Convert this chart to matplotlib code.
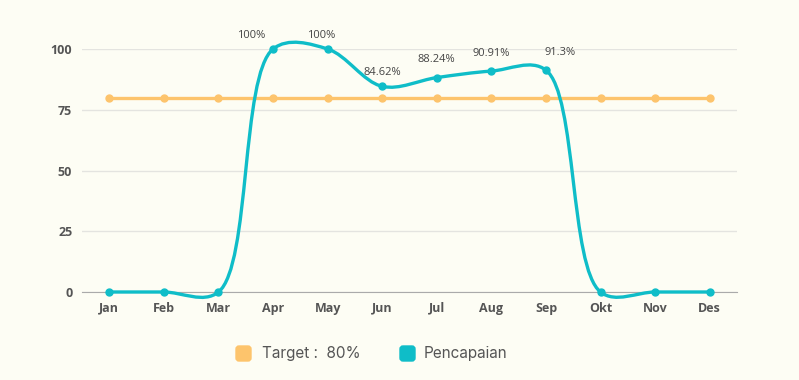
import numpy as np
import matplotlib
matplotlib.use('Agg')
import matplotlib.pyplot as plt
from matplotlib.path import Path
from matplotlib.patches import PathPatch, FancyBboxPatch

months = ['Jan', 'Feb', 'Mar', 'Apr', 'May', 'Jun', 'Jul', 'Aug', 'Sep', 'Okt', 'Nov', 'Des']
target = [80] * 12
pencapaian = [0, 0, 0, 100, 100, 84.62, 88.24, 90.91, 91.3, 0, 0, 0]
labels = ['', '', '', '100%', '100%', '84.62%', '88.24%', '90.91%', '91.3%', '', '', '']
# label shifts in pixels (dx, dy) so they clear the line
label_shift = [(0, 0), (0, 0), (0, 0), (-22, 14), (-6, 14), (0, 14),
               (0, 18), (0, 18), (14, 18), (0, 0), (0, 0), (0, 0)]

bg = '#FDFDF4'
orange = '#FDC46C'
teal = '#0FBDC8'
txt = '#555555'

plt.rcParams['font.family'] = ['Open Sans', 'DejaVu Sans']


def catmull_rom(pts, alpha=0.5):
    # centripetal catmull-rom -> cubic bezier (same maths as d3.curveCatmullRom)
    n = len(pts)
    verts = [pts[0]]
    codes = [Path.MOVETO]
    for i in range(n - 1):
        p0 = pts[i - 1] if i > 0 else pts[i]
        p1, p2 = pts[i], pts[i + 1]
        p3 = pts[i + 2] if i + 2 < n else pts[i + 1]
        l01 = np.hypot(*(p1 - p0))
        l12 = np.hypot(*(p2 - p1))
        l23 = np.hypot(*(p3 - p2))
        c1, c2 = p1.copy(), p2.copy()
        if l01 > 1e-9:
            a = 2 * l01 ** (2 * alpha) + 3 * l01 ** alpha * l12 ** alpha + l12 ** (2 * alpha)
            m = 3 * l01 ** alpha * (l01 ** alpha + l12 ** alpha)
            c1 = (p1 * a - p0 * l12 ** (2 * alpha) + p2 * l01 ** (2 * alpha)) / m
        if l23 > 1e-9:
            b = 2 * l23 ** (2 * alpha) + 3 * l23 ** alpha * l12 ** alpha + l12 ** (2 * alpha)
            m = 3 * l23 ** alpha * (l23 ** alpha + l12 ** alpha)
            c2 = (p2 * b + p1 * l23 ** (2 * alpha) - p3 * l12 ** (2 * alpha)) / m
        verts += [c1, c2, p2]
        codes += [Path.CURVE4] * 3
    return np.array(verts), codes


fig = plt.figure(figsize=(7.99, 3.8), dpi=100, facecolor=bg)
ax = fig.add_axes([82 / 799, 88 / 380, 655 / 799, 243 / 380])
ax.set_facecolor(bg)
ax.set_xlim(-0.5, 11.5)
ax.set_ylim(0, 100)
ax.set_yticks([0, 25, 50, 75, 100])
ax.set_xticks(range(12))
ax.set_xticklabels(months)
for s in ['top', 'right', 'left']:
    ax.spines[s].set_visible(False)
ax.spines['bottom'].set_color('#AAAAAA')
ax.grid(axis='y', color='#E4E4E0', linewidth=1)
ax.set_axisbelow(True)
ax.tick_params(axis='both', length=0, labelsize=9, labelcolor=txt)
ax.tick_params(axis='x', pad=7)
ax.tick_params(axis='y', pad=7)
for lb in ax.get_xticklabels() + ax.get_yticklabels():
    lb.set_fontweight('bold')

x = np.arange(12)

# target line
ax.plot(x, target, color=orange, lw=2.4, marker='o', ms=5, zorder=3, clip_on=False)

# smooth achievement line, built in pixel space
fig.canvas.draw()
pts = ax.transData.transform(np.column_stack([x, pencapaian]))
verts, codes = catmull_rom(pts)
verts = ax.transData.inverted().transform(verts)
ax.add_patch(PathPatch(Path(verts, codes), facecolor='none', edgecolor=teal, lw=2.4,
                       zorder=4, clip_on=False))
ax.plot(x, pencapaian, 'o', color=teal, ms=5, zorder=5, clip_on=False)

for xi, yi, lb, (dx, dy) in zip(x, pencapaian, labels, label_shift):
    if lb:
        ax.annotate(lb, (xi, yi), xytext=(dx * 0.72, dy * 0.72), textcoords='offset points',
                    ha='center', va='center', fontsize=8, color='#444444')

# legend drawn in a pixel-space overlay
lg = fig.add_axes([0, 0, 1, 1])
lg.set_xlim(0, 799)
lg.set_ylim(380, 0)
lg.axis('off')
for x0, col, x1, name in [(236, orange, 262, 'Target :  80%'), (400, teal, 424, 'Pencapaian')]:
    lg.add_patch(FancyBboxPatch((x0, 346), 15, 15, boxstyle='round,pad=0,rounding_size=3',
                                color=col))
    lg.text(x1, 353.5, name, fontsize=11, color=txt, va='center',
            family=['Inter', 'DejaVu Sans'])

fig.savefig('out.png', dpi=100, facecolor=bg)
